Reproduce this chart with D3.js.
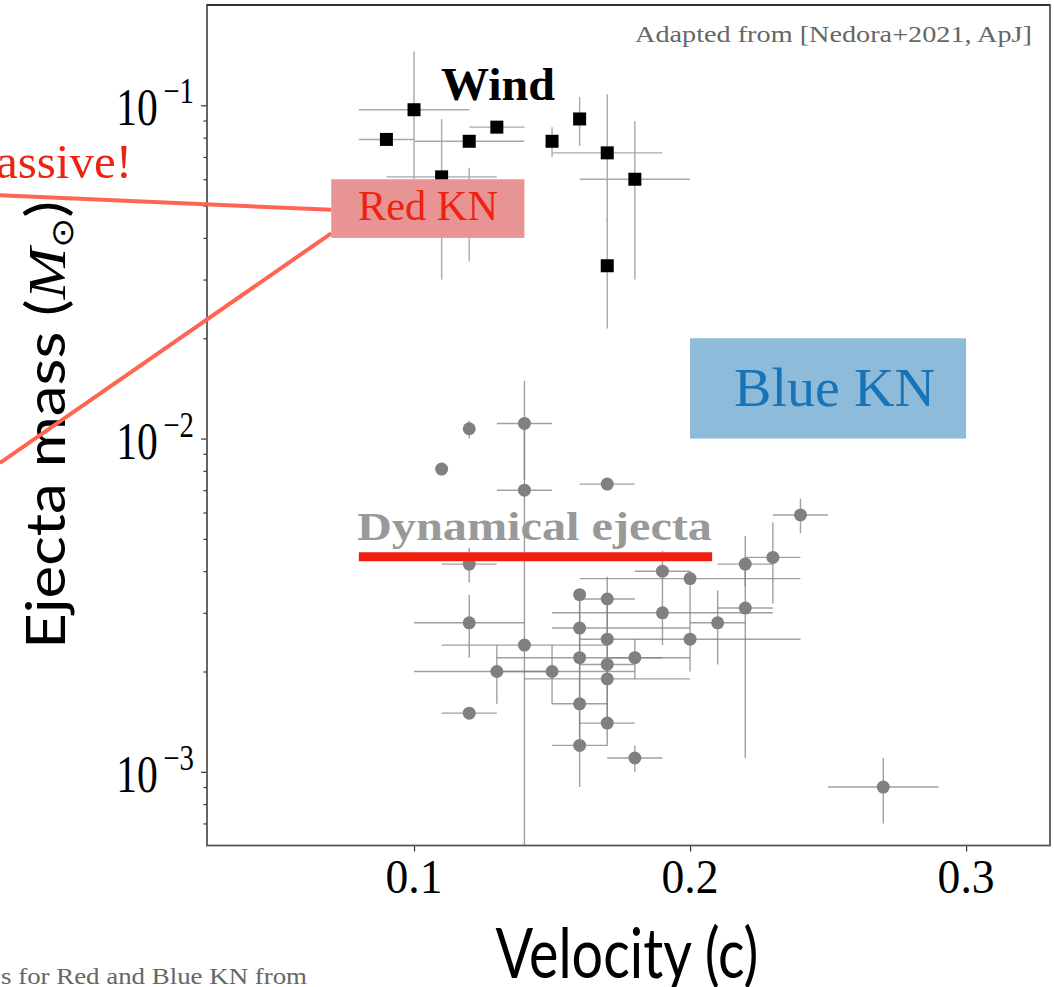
<!DOCTYPE html>
<html>
<head>
<meta charset="utf-8">
<script src="https://cdn.jsdelivr.net/npm/d3@7"></script>
<style>
  body { margin: 0; background: #fff; }
  svg { display: block; }
</style>
</head>
<body>
<div id="chart"></div>
<script>
// wind ejecta: [velocity, mass, vLow, vHigh, mLow, mHigh]
var windPoints = [
  [0.09, 0.079, 0.08, 0.10, null, null],
  [0.10, 0.097, 0.08, 0.12, 0.060, 0.145],
  [0.11, 0.061, 0.09, 0.13, 0.030, 0.091],
  [0.12, 0.078, 0.10, 0.14, null, null],
  [0.12, 0.047, null, null, 0.034, 0.065],
  [0.13, 0.086, 0.12, 0.14, null, null],
  [0.15, 0.078, null, null, 0.070, 0.086],
  [0.16, 0.091, null, null, 0.0755, 0.106],
  [0.17, 0.072, 0.15, 0.19, 0.045, 0.108],
  [0.17, 0.033, null, null, 0.0214, 0.046],
  [0.18, 0.060, 0.16, 0.20, 0.030, 0.0895]
];

// dynamical ejecta: [velocity, mass, vLow, vHigh, mLow, mHigh]
var dynPoints = [
  [0.12, 0.0107, null, null, 0.0100, 0.0113],
  [0.11, 0.0081, null, null, null, null],
  [0.14, 0.0111, 0.13, 0.15, 0.0075, 0.0149],
  [0.14, 0.0070, 0.13, 0.15, 0.0001, 0.0111],
  [0.17, 0.0073, 0.16, 0.18, null, null],
  [0.12, 0.0042, 0.11, 0.13, 0.0037, 0.0047],
  [0.12, 0.0028, 0.10, 0.14, 0.0022, 0.0034],
  [0.12, 0.0015, 0.11, 0.13, null, null],
  [0.13, 0.0020, 0.10, 0.15, 0.0016, 0.0024],
  [0.14, 0.0024, 0.11, 0.17, null, null],
  [0.15, 0.0020, 0.13, 0.18, 0.0016, 0.0024],
  [0.16, 0.0034, null, null, 0.0027, 0.0034],
  [0.17, 0.0033, 0.16, 0.18, 0.0025, 0.00385],
  [0.16, 0.0027, 0.15, 0.20, 0.0022, 0.0034],
  [0.17, 0.0025, 0.16, 0.18, 0.0021, 0.0033],
  [0.16, 0.0022, 0.13, 0.20, 0.0016, 0.0027],
  [0.17, 0.0021, 0.16, 0.18, 0.0019, 0.0025],
  [0.18, 0.0022, 0.17, 0.19, 0.0019, 0.0025],
  [0.17, 0.0019, 0.14, 0.20, 0.0014, 0.0021],
  [0.16, 0.0016, 0.15, 0.17, 0.0012, 0.0022],
  [0.17, 0.0014, 0.16, 0.18, 0.0012, 0.0019],
  [0.16, 0.0012, 0.15, 0.17, 0.0009, 0.0016],
  [0.18, 0.0011, 0.17, 0.19, 0.0010, 0.0012],
  [0.19, 0.0040, 0.18, 0.20, 0.0024, 0.0046],
  [0.19, 0.0030, 0.15, 0.23, null, null],
  [0.20, 0.0038, 0.16, 0.24, 0.0020, 0.0040],
  [0.20, 0.0025, 0.18, 0.24, null, null],
  [0.21, 0.0028, 0.20, 0.22, 0.0021, 0.0035],
  [0.22, 0.0042, 0.21, 0.23, 0.0036, 0.0051],
  [0.22, 0.0031, 0.21, 0.23, 0.0011, 0.0042],
  [0.23, 0.0044, 0.22, 0.24, 0.0032, 0.0056],
  [0.24, 0.0059, 0.23, 0.25, 0.0052, 0.0066],
  [0.27, 0.0009, 0.25, 0.29, 0.0007, 0.0011]
];

// kilonova regions [vMin, vMax, mMin, mMax]
var redKN = [0.07, 0.14, 0.04, 0.06];
var blueKN = [0.20, 0.30, 0.01, 0.02];
// dynamical ejecta bar: [vMin, vMax, mass]
var dynBar = [0.08, 0.208, 0.00442];
// pointer lines to the Red KN box (velocity, mass)
var pointerTop = [[-0.05, 0.0537], [0.07, 0.0486]];
var pointerBottom = [[0.07, 0.0413], [-0.05, 0.00845]];

var xTicks = [0.1, 0.2, 0.3];
var xTickLabels = ["0.1", "0.2", "0.3"];
var yTicks = [1e-3, 1e-2, 1e-1];
var yTickExp = ["\u22123", "\u22122", "\u22121"];

var W = 1054, H = 987;
var pLeft = 207, pRight = 1050, pTop = 5, pBottom = 845.5;

var svg = d3.select("#chart").append("svg")
    .attr("width", W)
    .attr("height", H);

var x = d3.scaleLinear().domain([0.025, 0.3304]).range([pLeft, pRight]);
var y = d3.scaleLog().domain([6.01e-4, 0.2]).range([pBottom, pTop]);

var serif = "'Liberation Serif', 'Times New Roman', serif";
var sans = "Lato, 'Open Sans', sans-serif";

svg.append("defs").append("clipPath").attr("id", "plotClip")
  .append("rect")
    .attr("x", pLeft).attr("y", pTop)
    .attr("width", pRight - pLeft).attr("height", pBottom - pTop);

var plot = svg.append("g").attr("clip-path", "url(#plotClip)");

function drawErrors(data, color) {
    var g = plot.append("g").attr("stroke", color).attr("stroke-width", 1.4);
    g.selectAll(".h").data(data.filter(function(d) { return d[2] != null; }))
      .enter().append("line")
        .attr("x1", function(d) { return x(d[2]); })
        .attr("x2", function(d) { return x(d[3]); })
        .attr("y1", function(d) { return y(d[1]); })
        .attr("y2", function(d) { return y(d[1]); });
    g.selectAll(".v").data(data.filter(function(d) { return d[4] != null; }))
      .enter().append("line")
        .attr("x1", function(d) { return x(d[0]); })
        .attr("x2", function(d) { return x(d[0]); })
        .attr("y1", function(d) { return y(d[4]); })
        .attr("y2", function(d) { return y(d[5]); });
}

// dynamical ejecta
drawErrors(dynPoints, "rgba(128,128,128,0.75)");
plot.append("g").selectAll("circle")
    .data(dynPoints)
    .enter()
    .append("circle")
    .attr("cx", function(d) { return x(d[0]); })
    .attr("cy", function(d) { return y(d[1]); })
    .attr("r", 6.5)
    .attr("fill", "#808080");

// wind
drawErrors(windPoints, "#a9a9a9");
var sq = 13;
plot.append("g").selectAll("rect")
    .data(windPoints)
    .enter()
    .append("rect")
    .attr("x", function(d) { return x(d[0]) - sq / 2; })
    .attr("y", function(d) { return y(d[1]) - sq / 2; })
    .attr("width", sq)
    .attr("height", sq)
    .attr("fill", "#000");

// axes
var yMinor = [];
[1e-4, 1e-3, 1e-2, 1e-1].forEach(function(p) {
    for (var k = 2; k <= 9; k++) yMinor.push(p * k);
});
yMinor = yMinor.filter(function(v) { return v > 6.01e-4 && v < 0.2; });

var gx = svg.append("g")
    .attr("transform", "translate(0," + pBottom + ")")
    .call(d3.axisBottom(x).tickValues(xTicks).tickSize(6).tickFormat(""));
var gy = svg.append("g")
    .attr("transform", "translate(" + pLeft + ",0)")
    .call(d3.axisLeft(y).tickValues(yTicks).tickSize(6).tickFormat(""));
var gym = svg.append("g")
    .attr("transform", "translate(" + pLeft + ",0)")
    .call(d3.axisLeft(y).tickValues(yMinor).tickSize(3.5).tickFormat(""));
[gx, gy, gym].forEach(function(g) {
    g.select(".domain").remove();
    g.selectAll(".tick line").attr("stroke", "#333").attr("stroke-width", 1.2);
});

// frame
svg.append("rect")
    .attr("x", pLeft).attr("y", pTop)
    .attr("width", pRight - pLeft).attr("height", pBottom - pTop)
    .attr("fill", "none")
    .attr("stroke", "#555")
    .attr("stroke-width", 1.8);
svg.append("line")
    .attr("x1", pLeft).attr("x2", pRight).attr("y1", pTop).attr("y2", pTop)
    .attr("stroke", "#222").attr("stroke-width", 1.6);

// tick labels
svg.append("g").selectAll("text")
    .data(xTicks)
    .enter()
    .append("text")
    .attr("x", function(d) { return x(d); })
    .attr("y", 893)
    .attr("text-anchor", "middle")
    .attr("font-family", serif)
    .attr("font-size", 48)
    .attr("textLength", 57)
    .attr("lengthAdjust", "spacingAndGlyphs")
    .text(function(d, i) { return xTickLabels[i]; });

var yl = svg.append("g").selectAll("text")
    .data(yTicks)
    .enter()
    .append("text")
    .attr("transform", function(d) { return "translate(194," + (y(d) + 20) + ") scale(0.8,1)"; })
    .attr("text-anchor", "end")
    .attr("font-family", serif)
    .attr("font-size", 52);
yl.append("tspan").text("10");
yl.append("tspan")
    .attr("font-size", 36)
    .attr("dx", 7)
    .attr("dy", -22)
    .text(function(d, i) { return yTickExp[i]; });

// axis titles
svg.append("text")
    .attr("x", 627)
    .attr("y", 978)
    .attr("text-anchor", "middle")
    .attr("font-family", sans)
    .attr("font-size", 69)
    .attr("textLength", 263)
    .attr("lengthAdjust", "spacingAndGlyphs")
    .text("Velocity (c)");

var ylab = svg.append("text")
    .attr("transform", "translate(65,425) scale(0.86,1) rotate(-90)")
    .attr("text-anchor", "middle")
    .attr("font-family", sans)
    .attr("font-size", 62);
ylab.append("tspan").text("Ejecta mass (");
ylab.append("tspan").attr("font-family", serif).attr("font-style", "italic").text("M");
ylab.append("tspan").attr("font-family", "'DejaVu Sans', sans-serif").attr("font-size", 36).attr("dy", 9).text("\u2299");
ylab.append("tspan").attr("dy", -9).text(")");

// kilonova boxes
svg.append("rect")
    .attr("x", x(blueKN[0])).attr("y", y(blueKN[3]))
    .attr("width", x(blueKN[1]) - x(blueKN[0]))
    .attr("height", y(blueKN[2]) - y(blueKN[3]))
    .attr("fill", "#8fbbda");
svg.append("text")
    .attr("x", 734).attr("y", 406)
    .attr("font-family", serif).attr("font-size", 55)
    .attr("fill", "#1874b8")
    .attr("textLength", 201).attr("lengthAdjust", "spacingAndGlyphs")
    .text("Blue KN");

var line = d3.line()
    .x(function(d) { return x(d[0]); })
    .y(function(d) { return y(d[1]); });
[pointerTop, pointerBottom].forEach(function(p) {
    svg.append("path")
        .attr("d", line(p))
        .attr("fill", "none")
        .attr("stroke", "#ff6552")
        .attr("stroke-width", 4);
});

svg.append("rect")
    .attr("x", x(redKN[0])).attr("y", y(redKN[3]))
    .attr("width", x(redKN[1]) - x(redKN[0]))
    .attr("height", y(redKN[2]) - y(redKN[3]))
    .attr("fill", "#e99494");
svg.append("text")
    .attr("x", 358).attr("y", 220)
    .attr("font-family", serif).attr("font-size", 42)
    .attr("fill", "#ee2211")
    .attr("textLength", 140).attr("lengthAdjust", "spacingAndGlyphs")
    .text("Red KN");

// labels
svg.append("text")
    .attr("x", 441).attr("y", 100)
    .attr("font-family", serif).attr("font-size", 46).attr("font-weight", "bold")
    .attr("textLength", 114).attr("lengthAdjust", "spacingAndGlyphs")
    .text("Wind");

svg.append("text")
    .attr("x", 357).attr("y", 540)
    .attr("font-family", serif).attr("font-size", 40).attr("font-weight", "bold")
    .attr("fill", "#999")
    .attr("textLength", 355).attr("lengthAdjust", "spacingAndGlyphs")
    .text("Dynamical ejecta");

svg.append("line")
    .attr("x1", x(dynBar[0])).attr("x2", x(dynBar[1]))
    .attr("y1", y(dynBar[2])).attr("y2", y(dynBar[2]))
    .attr("stroke", "#ef2010")
    .attr("stroke-width", 9);

svg.append("text")
    .attr("x", 1032).attr("y", 42)
    .attr("text-anchor", "end")
    .attr("font-family", serif).attr("font-size", 24)
    .attr("fill", "#666")
    .attr("textLength", 397).attr("lengthAdjust", "spacingAndGlyphs")
    .text("Adapted from [Nedora+2021, ApJ]");

svg.append("text")
    .attr("x", 132).attr("y", 178)
    .attr("text-anchor", "end")
    .attr("font-family", serif).attr("font-size", 49)
    .attr("fill", "#ee2211")
    .text("massive!");

svg.append("text")
    .attr("x", 1).attr("y", 984)
    .attr("font-family", serif).attr("font-size", 24)
    .attr("fill", "#666")
    .attr("textLength", 306).attr("lengthAdjust", "spacingAndGlyphs")
    .text("s for Red and Blue KN from");
</script>
</body>
</html>
